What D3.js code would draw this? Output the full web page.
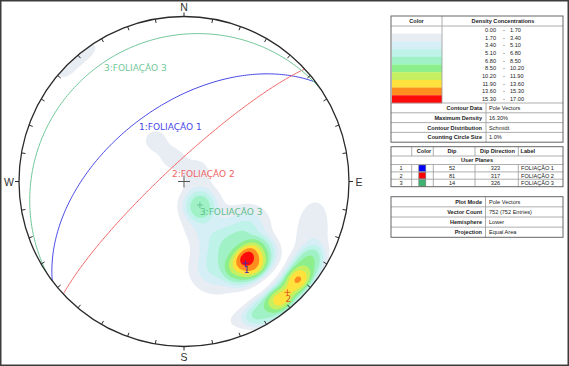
<!DOCTYPE html>
<html>
<head>
<meta charset="utf-8">
<script src="https://cdn.jsdelivr.net/npm/d3@7"></script>
<style>body{margin:0;background:#fff}</style>
</head>
<body>
<script>
// stereonet (lower hemisphere, equal area) + legend tables

const w = 569;
const h = 366;
const cx = 184, cy = 181.5, R = 165;
const rad = Math.PI / 180;

// user planes
const planeIds = [1, 2, 3];
const planeDips = [52, 81, 14];
const planeDipDirs = [323, 317, 326];
const planeNames = ["FOLIAÇÃO 1", "FOLIAÇÃO 2", "FOLIAÇÃO 3"];
const planeColors = ["#4646e6", "#f06464", "#70c898"];
const swatchColors = ["#0000ff", "#ff0000", "#3cb371"];

// density legend
const densityBreaks = [0, 1.7, 3.4, 5.1, 6.8, 8.5, 10.2, 11.9, 13.6, 15.3, 17.0];
const densityColors = ["#ffffff", "#e8ecf3", "#d6eef6", "#bff2e8", "#a0f2c6",
                       "#8cef8c", "#c4f062", "#ffe23e", "#ff8c1e", "#ff0a0a"];

// pole concentrations:
// trend, plunge, spread (deg), peak (%), falloff exponent
const clusterTrend  = [136, 144, 158, 142, 130, 152, 164, 121, 126, 136, 146, 106, 120, 157, 314, 323, 146, 146,  48, 161, 325, 333];
const clusterPlunge = [ 36,  36,  40,  50,  48,  57,  46,  51,  10,   9,   8,  20,  13,  11,   2,   2,  76,  76,  81,  66,  65,  77];
const clusterSpread = [8.5, 8.5,   9,   9,   8,   7,   7,   7, 8.5, 8.5, 8.5,   7,   9,   6, 4.5, 4.5, 6.4,  10,   6,   6,   5,   5];
const clusterPeak   = [6.4, 6.4, 3.5, 4.0, 2.5, 1.6, 1.6, 1.8, 6.6, 6.8, 6.6, 2.4, 2.5, 2.2, 2.3, 2.3, 5.5, 2.2, 1.8, 1.5, 2.5, 2.3];
const clusterShape  = [  4,   4,   2,   2,   2,   2,   2,   2,   4,   4,   4,   2,   2,   2,   2,   2,   3,   2,   2,   2,   2,   2];

// tables
const infoLabels1 = ["Contour Data", "Maximum Density", "Contour Distribution", "Counting Circle Size"];
const infoValues1 = ["Pole Vectors", "16.30%", "Schmidt", "1.0%"];
const infoLabels2 = ["Plot Mode", "Vector Count", "Hemisphere", "Projection"];
const infoValues2 = ["Pole Vectors", "752 (752 Entries)", "Lower", "Equal Area"];

const sx = d3.scaleLinear().domain([-1, 1]).range([cx - R, cx + R]);
const sy = d3.scaleLinear().domain([-1, 1]).range([cy + R, cy - R]);

function project(trend, plunge) {
  const r = Math.SQRT2 * Math.sin((90 - plunge) / 2 * rad);
  return [sx(r * Math.sin(trend * rad)), sy(r * Math.cos(trend * rad))];
}

function toVec(trend, plunge) {
  return [Math.cos(plunge * rad) * Math.cos(trend * rad),
          Math.cos(plunge * rad) * Math.sin(trend * rad),
          Math.sin(plunge * rad)];
}

const clusterVecs = clusterTrend.map((t, i) => toVec(t, clusterPlunge[i]));

function density(v) {
  let s = 0;
  clusterVecs.forEach((c, i) => {
    const d = Math.max(-1, Math.min(1, c[0] * v[0] + c[1] * v[1] + c[2] * v[2]));
    const a = Math.acos(d) / rad;
    s += clusterPeak[i] * Math.exp(-0.5 * Math.pow(a / clusterSpread[i], clusterShape[i]));
  });
  return s;
}

const svg = d3.select("body")
  .append("svg")
    .attr("width", w)
    .attr("height", h)
    .style("font-family", "Liberation Sans, Arial, sans-serif");

svg.append("rect")
    .attr("x", 0.75).attr("y", 0.75)
    .attr("width", w - 1.5).attr("height", h - 1.5)
    .attr("fill", "#fff")
    .attr("stroke", "#3c3c3c")
    .attr("stroke-width", 1.5);

svg.append("clipPath").attr("id", "net")
  .append("circle").attr("cx", cx).attr("cy", cy).attr("r", R);

// density grid
const n = 240;
const x0 = cx - R - 5, y0 = cy - R - 5, step = (2 * R + 10) / n;
const values = new Array(n * n);
for (let j = 0; j < n; j++) {
  for (let i = 0; i < n; i++) {
    const u = (x0 + (i + 0.5) * step - cx) / R;
    const v = (cy - (y0 + (j + 0.5) * step)) / R;
    let rho = Math.hypot(u, v);
    const st = rho > 0 ? u / rho : 0, ct = rho > 0 ? v / rho : 1;
    rho = Math.min(1, rho);
    const th = 2 * Math.asin(rho / Math.SQRT2);
    values[i + j * n] = density([Math.sin(th) * ct, Math.sin(th) * st, Math.cos(th)]);
  }
}

const contours = d3.contours()
    .size([n, n])
    .thresholds(densityBreaks.slice(1, -1))(values);

const gridPath = d3.geoPath(d3.geoIdentity().scale(step).translate([x0, y0]));

svg.append("g")
    .attr("clip-path", "url(#net)")
  .selectAll("path")
  .data(contours)
  .enter().append("path")
    .attr("d", gridPath)
    .attr("fill", (d, i) => densityColors[i + 1]);

// great circles
const line = d3.line();
planeIds.forEach((id, k) => {
  const dd = planeDipDirs[k], dip = planeDips[k];
  const s = toVec(dd - 90, 0), dv = toVec(dd, dip);
  const pts = d3.range(0, 180.5, 1).map(a => {
    const c = Math.cos(a * rad), sn = Math.sin(a * rad);
    const p = [s[0] * c + dv[0] * sn, s[1] * c + dv[1] * sn, Math.max(0, s[2] * c + dv[2] * sn)];
    return project(Math.atan2(p[1], p[0]) / rad, Math.asin(Math.min(1, p[2])) / rad);
  });
  svg.append("path")
      .attr("d", line(pts))
      .attr("fill", "none")
      .attr("stroke", planeColors[k])
      .attr("stroke-width", 1);
});

// primitive circle, ticks, cardinal labels
svg.append("circle")
    .attr("cx", cx).attr("cy", cy).attr("r", R)
    .attr("fill", "none")
    .attr("stroke", "#2a2a2a")
    .attr("stroke-width", 1.3);

d3.range(0, 360, 10).forEach(az => {
  const card = az % 90 === 0;
  const r1 = R, r2 = card ? R + 4 : R - 4;
  svg.append("line")
      .attr("x1", cx + r1 * Math.sin(az * rad)).attr("y1", cy - r1 * Math.cos(az * rad))
      .attr("x2", cx + r2 * Math.sin(az * rad)).attr("y2", cy - r2 * Math.cos(az * rad))
      .attr("stroke", "#2a2a2a")
      .attr("stroke-width", 1);
});

const cardinals = ["N", "E", "S", "W"];
cardinals.forEach((c, i) => {
  const az = i * 90;
  svg.append("text")
      .attr("x", cx + (R + 10) * Math.sin(az * rad))
      .attr("y", cy - (R + 10) * Math.cos(az * rad))
      .attr("text-anchor", "middle")
      .attr("dominant-baseline", "central")
      .attr("font-size", 10.5)
      .attr("fill", "#333")
      .text(c);
});

// centre cross
svg.append("path")
    .attr("d", `M${cx - 6},${cy}H${cx + 6}M${cx},${cy - 6}V${cy + 6}`)
    .attr("stroke", "#555")
    .attr("stroke-width", 1);

// plane labels
const labelFont = "DejaVu Sans, Verdana, sans-serif";
const planeLabelAt = [[139, 127], [172, 174], [104, 68]];
planeIds.forEach((id, k) => {
  svg.append("text")
      .attr("x", planeLabelAt[k][0]).attr("y", planeLabelAt[k][1])
      .attr("dominant-baseline", "central")
      .attr("font-family", labelFont)
      .attr("font-size", 9)
      .attr("fill", planeColors[k])
      .text(`${id}:${planeNames[k]}`);
});

// poles of planes
const poleTextColors = ["#3c28b4", "#e0541e", "#5cc08c"];
planeIds.forEach((id, k) => {
  const [px, py] = project((planeDipDirs[k] + 180) % 360, 90 - planeDips[k]);
  svg.append("path")
      .attr("d", `M${px - 3},${py}H${px + 3}M${px},${py - 3}V${py + 3}`)
      .attr("stroke", poleTextColors[k])
      .attr("stroke-width", 0.8);
  svg.append("text")
      .attr("x", px + (id === 3 ? 0 : 1))
      .attr("y", py + 7)
      .attr("text-anchor", id === 3 ? "start" : "middle")
      .attr("dominant-baseline", "central")
      .attr("font-family", labelFont)
      .attr("font-size", 9)
      .attr("fill", poleTextColors[k])
      .text(id === 3 ? `${id}:${planeNames[k]}` : id);
});

// ---------- legend tables ----------
const tx0 = 391, tx1 = 563;
const border = "#666", inner = "#999";
const fs = 5.6;

function cellText(x, y, t, anchor, bold) {
  svg.append("text")
      .attr("x", x).attr("y", y)
      .attr("text-anchor", anchor || "start")
      .attr("dominant-baseline", "central")
      .attr("font-size", fs)
      .attr("font-weight", bold ? "bold" : "normal")
      .attr("fill", "#222")
      .text(t);
}
function hline(y, a, b) {
  svg.append("line").attr("x1", a || tx0).attr("x2", b || tx1).attr("y1", y).attr("y2", y)
      .attr("stroke", inner).attr("stroke-width", 0.8);
}
function vline(x, a, b) {
  svg.append("line").attr("x1", x).attr("x2", x).attr("y1", a).attr("y2", b)
      .attr("stroke", inner).attr("stroke-width", 0.8);
}
function box(ya, yb) {
  svg.append("rect").attr("x", tx0).attr("y", ya).attr("width", tx1 - tx0).attr("height", yb - ya)
      .attr("fill", "none").attr("stroke", border).attr("stroke-width", 1);
}

// table 1: density legend
const t1y = 16, headH = 10, rowH = 7.7;
const colorY = d3.scaleLinear().domain([0, densityColors.length]).range([t1y + headH, t1y + headH + rowH * densityColors.length]);
densityColors.forEach((c, i) => {
  svg.append("rect")
      .attr("x", tx0 + 1).attr("y", colorY(i))
      .attr("width", 442 - tx0 - 1).attr("height", rowH + 0.2)
      .attr("fill", c);
  cellText(496, colorY(i + 0.5), densityBreaks[i].toFixed(2), "end");
  cellText(504, colorY(i + 0.5), "-", "middle");
  cellText(510, colorY(i + 0.5), densityBreaks[i + 1].toFixed(2), "start");
});
cellText(416.5, t1y + headH / 2, "Color", "middle", true);
cellText(503, t1y + headH / 2, "Density Concentrations", "middle", true);
hline(t1y + headH);
vline(442, t1y, colorY(densityColors.length));
const info1Top = colorY(densityColors.length), infoH = 9.8;
infoLabels1.forEach((l, i) => {
  hline(info1Top + i * infoH);
  cellText(482, info1Top + (i + 0.5) * infoH, l, "end", true);
  cellText(489, info1Top + (i + 0.5) * infoH, infoValues1[i], "start");
});
vline(486, info1Top, info1Top + 4 * infoH);
box(t1y, info1Top + 4 * infoH);

// table 2: user planes
const t2y = 146.7;
const t2cols = [411.7, 433.3, 475, 518.3];
const t2rows = [t2y, t2y + 9.3, t2y + 17.8, t2y + 25.2, t2y + 32.5, t2y + 40];
cellText(424, (t2rows[0] + t2rows[1]) / 2, "Color", "middle", true);
cellText(452, (t2rows[0] + t2rows[1]) / 2, "Dip", "middle", true);
cellText(497.5, (t2rows[0] + t2rows[1]) / 2, "Dip Direction", "middle", true);
cellText(520.5, (t2rows[0] + t2rows[1]) / 2, "Label", "start", true);
cellText(477, (t2rows[1] + t2rows[2]) / 2, "User Planes", "middle", true);
t2rows.slice(1, -1).forEach(y => hline(y));
t2cols.forEach(x => { vline(x, t2rows[0], t2rows[1]); vline(x, t2rows[2], t2rows[5]); });
planeIds.forEach((id, k) => {
  const yc = (t2rows[k + 2] + t2rows[k + 3]) / 2;
  cellText(401, yc, id, "middle");
  svg.append("rect")
      .attr("x", 418.8).attr("y", yc - 3.2)
      .attr("width", 7).attr("height", 6.4)
      .attr("fill", swatchColors[k])
      .attr("stroke", "#777").attr("stroke-width", 0.6);
  cellText(452, yc, planeDips[k], "middle");
  cellText(495.5, yc, planeDipDirs[k], "middle");
  cellText(521, yc, planeNames[k], "start");
});
box(t2rows[0], t2rows[5]);

// table 3: plot info
const t3y = 196.7, t3h = 10.15;
infoLabels2.forEach((l, i) => {
  if (i > 0) hline(t3y + i * t3h);
  cellText(482, t3y + (i + 0.5) * t3h, l, "end", true);
  cellText(489, t3y + (i + 0.5) * t3h, infoValues2[i], "start");
});
vline(485.5, t3y, t3y + 4 * t3h);
box(t3y, t3y + 4 * t3h);
</script>
</body>
</html>
